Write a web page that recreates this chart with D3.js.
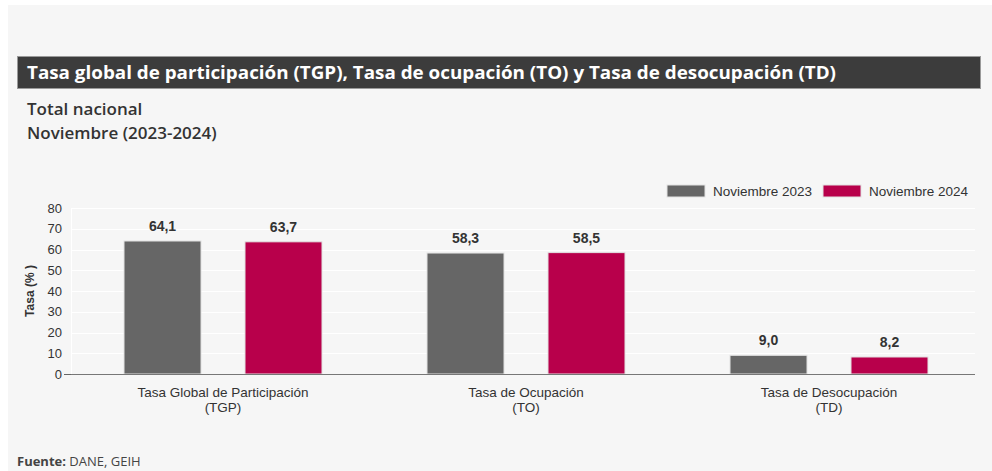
<!DOCTYPE html>
<html>
<head>
<meta charset="utf-8">
<script src="https://cdn.jsdelivr.net/npm/d3@7"></script>
<style>
  body { margin: 0; background: #ffffff; }
  svg { display: block; }
</style>
</head>
<body>
<div id="chart"></div>
<script>
// Data
const categories = ["Tasa Global de Participación|(TGP)", "Tasa de Ocupación|(TO)", "Tasa de Desocupación|(TD)"];
const seriesNames = ["Noviembre 2023", "Noviembre 2024"];
const values2023 = [64.1, 58.3, 9.0];
const values2024 = [63.7, 58.5, 8.2];
const yTicks = [0, 10, 20, 30, 40, 50, 60, 70, 80];

const colors = ["#666666", "#b8004b"];

const W = 992, H = 471;
const svg = d3.select("#chart").append("svg")
    .attr("width", W)
    .attr("height", H);

// Panel background
svg.append("rect")
    .attr("x", 8).attr("y", 5)
    .attr("width", W - 8).attr("height", H - 5)
    .attr("fill", "#f6f6f6");

// Title bar
svg.append("rect")
    .attr("x", 17.5).attr("y", 56.5)
    .attr("width", 963).attr("height", 32)
    .attr("fill", "#3c3c3c")
    .attr("stroke", "#9a9a9a");

svg.append("text")
    .attr("x", 27).attr("y", 79)
    .attr("fill", "#ffffff")
    .style("font-family", "'Open Sans', sans-serif")
    .style("font-weight", "bold")
    .style("font-size", "17px")
    .attr("textLength", 809)
    .attr("lengthAdjust", "spacingAndGlyphs")
    .text("Tasa global de participación (TGP), Tasa de ocupación (TO) y Tasa de desocupación (TD)");

// Subtitle
const sub = svg.append("text")
    .attr("fill", "#333333")
    .style("font-family", "'Open Sans', sans-serif")
    .style("font-weight", 600)
    .style("font-size", "17px");
sub.append("tspan").attr("x", 27).attr("y", 115).text("Total nacional");
sub.append("tspan").attr("x", 27).attr("y", 139).text("Noviembre (2023-2024)");

// Chart area
const plot = {left: 71, right: 975, top: 208, bottom: 374};
const g = svg.append("g");

const y = d3.scaleLinear()
    .domain([0, 80])
    .range([plot.bottom, plot.top]);

const x0 = d3.scaleBand()
    .domain(categories)
    .range([71.5, 980.5])
    .padding(0);

const x1 = d3.scaleBand()
    .domain(seriesNames)
    .range([0, x0.bandwidth()])
    .paddingInner(0.3636)
    .paddingOuter(0.434);

// Grid lines
g.append("g")
    .selectAll("line")
    .data(yTicks.filter(d => d > 0))
    .join("line")
    .attr("x1", plot.left)
    .attr("x2", plot.right)
    .attr("y1", d => Math.round(y(d)) + 0.5)
    .attr("y2", d => Math.round(y(d)) + 0.5)
    .attr("stroke", "#ffffff")
    .attr("stroke-width", 1);

// Vertical axis line (light)
g.append("line")
    .attr("x1", plot.left + 0.5).attr("x2", plot.left + 0.5)
    .attr("y1", plot.top).attr("y2", plot.bottom)
    .attr("stroke", "#ffffff");

// Y axis
const yAxis = g.append("g")
    .attr("transform", `translate(${plot.left},0)`)
    .call(d3.axisLeft(y).tickValues(yTicks).tickSize(0).tickPadding(9));
yAxis.select(".domain").remove();
yAxis.selectAll("text")
    .attr("fill", "#333333")
    .style("font-family", "Arial, 'Liberation Sans', sans-serif")
    .style("font-size", "13px");

// Zero tick
g.append("line")
    .attr("x1", plot.left - 7).attr("x2", plot.left)
    .attr("y1", plot.bottom + 0.5).attr("y2", plot.bottom + 0.5)
    .attr("stroke", "#666666");

// Y axis title
g.append("text")
    .attr("transform", `translate(34,${(plot.top + plot.bottom) / 2}) rotate(-90)`)
    .attr("text-anchor", "middle")
    .attr("fill", "#333333")
    .style("font-family", "Arial, 'Liberation Sans', sans-serif")
    .style("font-weight", "bold")
    .style("font-size", "12px")
    .text("Tasa (% )");

// Bars
const seriesValues = [values2023, values2024];
const rows = [];
categories.forEach((c, i) => {
    seriesNames.forEach((s, j) => {
        rows.push({cat: c, series: s, value: seriesValues[j][i], color: colors[j]});
    });
});

g.append("g")
    .selectAll("rect")
    .data(rows)
    .join("rect")
    .attr("x", d => x0(d.cat) + x1(d.series))
    .attr("y", d => y(d.value))
    .attr("width", x1.bandwidth())
    .attr("height", d => y(0) - y(d.value))
    .attr("fill", d => d.color)
    .attr("stroke", "#e2e2e2")
    .attr("stroke-width", 1);

// Value labels
g.append("g")
    .selectAll("text")
    .data(rows)
    .join("text")
    .attr("x", d => x0(d.cat) + x1(d.series) + x1.bandwidth() / 2)
    .attr("y", d => y(d.value) - 10)
    .attr("text-anchor", "middle")
    .attr("fill", "#333333")
    .style("font-family", "Arial, 'Liberation Sans', sans-serif")
    .style("font-weight", "bold")
    .style("font-size", "14px")
    .text(d => d3.format(".1f")(d.value).replace(".", ","));

// X axis baseline
g.append("line")
    .attr("x1", plot.left).attr("x2", plot.right)
    .attr("y1", plot.bottom + 0.5).attr("y2", plot.bottom + 0.5)
    .attr("stroke", "#777777");

// Category labels
const catLabels = g.append("g")
    .selectAll("text")
    .data(categories)
    .join("text")
    .attr("text-anchor", "middle")
    .attr("fill", "#333333")
    .style("font-family", "Arial, 'Liberation Sans', sans-serif")
    .style("font-size", "13.5px");
catLabels.each(function(d) {
    const parts = d.split("|");
    const cx = x0(d) + x0.bandwidth() / 2;
    parts.forEach((p, k) => {
        d3.select(this).append("tspan")
            .attr("x", cx)
            .attr("y", 397 + k * 15)
            .text(p);
    });
});

// Legend
const legend = svg.append("g");
const legendX = [667, 823];
seriesNames.forEach((s, i) => {
    legend.append("rect")
        .attr("x", legendX[i]).attr("y", 185)
        .attr("width", 38).attr("height", 12)
        .attr("fill", colors[i])
        .attr("stroke", "#e2e2e2");
    legend.append("text")
        .attr("x", legendX[i] + 46).attr("y", 195.5)
        .attr("fill", "#333333")
        .style("font-family", "Arial, 'Liberation Sans', sans-serif")
        .style("font-size", "13.5px")
        .text(s);
});

// Source
const src = svg.append("text")
    .attr("x", 17).attr("y", 466)
    .attr("fill", "#444444")
    .style("font-family", "'Open Sans', sans-serif")
    .style("font-size", "13px");
src.append("tspan").style("font-weight", "bold").text("Fuente:");
src.append("tspan").text(" DANE, GEIH");
</script>
</body>
</html>
